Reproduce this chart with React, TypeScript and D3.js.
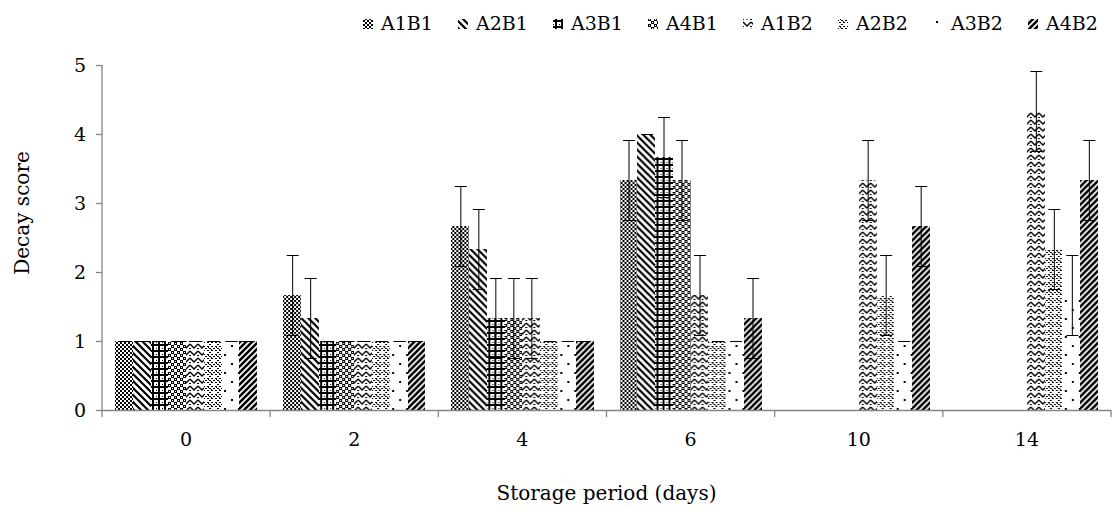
import React from 'react';
import * as d3 from 'd3';

const categories = ['0', '2', '4', '6', '10', '14'];
const series = ['A1B1', 'A2B1', 'A3B1', 'A4B1', 'A1B2', 'A2B2', 'A3B2', 'A4B2'];

// mean decay score per storage day
const A1B1 = [1, 1.67, 2.67, 3.33, 0, 0];
const A2B1 = [1, 1.33, 2.33, 4, 0, 0];
const A3B1 = [1, 1, 1.33, 3.67, 0, 0];
const A4B1 = [1, 1, 1.33, 3.33, 0, 0];
const A1B2 = [1, 1, 1.33, 1.67, 3.33, 4.33];
const A2B2 = [1, 1, 1, 1, 1.67, 2.33];
const A3B2 = [1, 1, 1, 1, 1, 1.67];
const A4B2 = [1, 1, 1, 1.33, 2.67, 3.33];

// standard deviation
const errA1B1 = [0, 0.58, 0.58, 0.58, 0, 0];
const errA2B1 = [0, 0.58, 0.58, 0, 0, 0];
const errA3B1 = [0, 0, 0.58, 0.58, 0, 0];
const errA4B1 = [0, 0, 0.58, 0.58, 0, 0];
const errA1B2 = [0, 0, 0.58, 0.58, 0.58, 0.58];
const errA2B2 = [0, 0, 0, 0, 0.58, 0.58];
const errA3B2 = [0, 0, 0, 0, 0, 0.58];
const errA4B2 = [0, 0, 0, 0.58, 0.58, 0.58];

const yTicks = [0, 1, 2, 3, 4, 5];

const values = [A1B1, A2B1, A3B1, A4B1, A1B2, A2B2, A3B2, A4B2];
const errors = [errA1B1, errA2B1, errA3B1, errA4B1, errA1B2, errA2B2, errA3B2, errA4B2];

const FONT = '"DejaVu Serif", "Liberation Serif", serif';
const AXIS = '#868686';

const Patterns = () => (
  <defs>
    {/* small checker */}
    <pattern id="p0" patternUnits="userSpaceOnUse" width={4} height={4}>
      <rect width={4} height={4} fill="#fff" />
      <rect x={0} y={0} width={2} height={2} fill="#000" />
      <rect x={2} y={2} width={2} height={2} fill="#000" />
      <rect x={1} y={1} width={1} height={1} fill="#000" />
      <rect x={3} y={3} width={1} height={1} fill="#000" />
    </pattern>
    {/* wide downward diagonal */}
    <pattern id="p1" patternUnits="userSpaceOnUse" width={7} height={7}>
      <rect width={7} height={7} fill="#fff" />
      <path d="M-2,-2 L9,9 M-2,5 L2,9 M5,-2 L9,2" stroke="#000" strokeWidth={2.2} />
    </pattern>
    {/* dark pluses */}
    <pattern id="p2" patternUnits="userSpaceOnUse" width={6} height={6}>
      <rect width={6} height={6} fill="#fff" />
      <rect x={2} y={0} width={2} height={6} fill="#000" />
      <rect x={0} y={2} width={6} height={2} fill="#000" />
      <rect x={0} y={0} width={1} height={1} fill="#000" />
    </pattern>
    {/* larger checker with white spots */}
    <pattern id="p3" patternUnits="userSpaceOnUse" width={6} height={6}>
      <rect width={6} height={6} fill="#fff" />
      <rect x={0} y={0} width={3} height={3} fill="#000" />
      <rect x={3} y={3} width={3} height={3} fill="#000" />
      <rect x={1} y={1} width={1} height={1} fill="#fff" />
      <rect x={4} y={4} width={1} height={1} fill="#fff" />
    </pattern>
    {/* zigzag */}
    <pattern id="p4" patternUnits="userSpaceOnUse" width={8} height={7}>
      <rect width={8} height={7} fill="#fff" />
      <path d="M0,1 L4,5 L8,1" fill="none" stroke="#000" strokeWidth={1.4} />
      <rect x={0} y={5} width={1} height={1} fill="#000" />
      <rect x={7} y={5} width={1} height={1} fill="#000" />
    </pattern>
    {/* dotted diamonds */}
    <pattern id="p5" patternUnits="userSpaceOnUse" width={8} height={8}>
      <rect width={8} height={8} fill="#fff" />
      <rect x={3} y={0} width={2} height={1} fill="#000" />
      <rect x={1} y={2} width={2} height={1} fill="#000" />
      <rect x={5} y={2} width={2} height={1} fill="#000" />
      <rect x={0} y={4} width={1} height={1} fill="#000" />
      <rect x={7} y={4} width={1} height={1} fill="#000" />
      <rect x={3} y={4} width={2} height={1} fill="#000" />
      <rect x={1} y={6} width={2} height={1} fill="#000" />
      <rect x={5} y={6} width={2} height={1} fill="#000" />
      <rect x={2} y={3} width={1} height={1} fill="#000" />
      <rect x={5} y={5} width={1} height={1} fill="#000" />
    </pattern>
    {/* sparse dots */}
    <pattern id="p6" patternUnits="userSpaceOnUse" width={14} height={18}>
      <rect width={14} height={18} fill="#fff" />
      <rect x={3} y={3} width={2} height={2} fill="#000" />
      <rect x={10} y={12} width={2} height={2} fill="#000" />
    </pattern>
    {/* wide upward diagonal */}
    <pattern id="p7" patternUnits="userSpaceOnUse" width={6} height={6}>
      <rect width={6} height={6} fill="#fff" />
      <path d="M-2,8 L8,-2 M-2,2 L2,-2 M4,8 L8,4" stroke="#000" strokeWidth={2.6} />
    </pattern>
  </defs>
);

export default function App() {
  const width = 1118;
  const height = 516;
  const left = 102;
  const right = 1111;
  const top = 65;
  const bottom = 410;

  const x0 = d3.scaleBand().domain(categories).range([left, right]).padding(0);
  const x1 = d3.scaleBand().domain(series).range([13, x0.bandwidth() - 13]).padding(0);
  const y = d3.scaleLinear().domain([0, 5]).range([bottom, top]);
  const legendX = d3.scalePoint().domain(series).range([363, 1028]);

  const boundaries = [...categories.map(c => x0(c) as number), right];

  return (
    <svg width={width} height={height} style={{ display: 'block', position: 'absolute', left: 0, top: 0 }}
      fontFamily={FONT}>
      <Patterns />
      <rect width={width} height={height} fill="#fff" />

      {/* legend */}
      {series.map((s, i) => (
        <g key={s} transform={`translate(${legendX(s)},0)`}>
          <rect x={0} y={19} width={10} height={10} fill={`url(#p${i})`} shapeRendering="crispEdges" />
          <text x={18} y={30} fontSize={19} fill="#000">{s}</text>
        </g>
      ))}

      {/* bars */}
      {categories.map((c, ci) => (
        <g key={c} transform={`translate(${x0(c)},0)`}>
          {series.map((s, si) => {
            const v = values[si][ci];
            if (!v) return null;
            return (
              <rect key={s} x={x1(s)} y={y(v)} width={x1.bandwidth()} height={y(0) - y(v)}
                fill={`url(#p${si})`} shapeRendering="crispEdges" />
            );
          })}
        </g>
      ))}

      {/* error bars */}
      {categories.map((c, ci) => (
        <g key={c} transform={`translate(${x0(c)},0)`} stroke="#000" strokeWidth={1}>
          {series.map((s, si) => {
            const v = values[si][ci];
            if (!v) return null;
            const e = errors[si][ci];
            const cx = Math.round((x1(s) as number) + x1.bandwidth() / 2) + 0.5;
            const hi = Math.round(y(v + e)) + 0.5;
            const lo = Math.round(y(v - e)) + 0.5;
            return (
              <g key={s}>
                <line x1={cx} x2={cx} y1={hi} y2={lo} />
                <line x1={cx - 6} x2={cx + 6} y1={hi} y2={hi} />
                <line x1={cx - 6} x2={cx + 6} y1={lo} y2={lo} />
              </g>
            );
          })}
        </g>
      ))}

      {/* axes */}
      <g stroke={AXIS} strokeWidth={1.3}>
        <line x1={left} x2={left} y1={y(5)} y2={y(0)} />
        {yTicks.map(t => (
          <line key={t} x1={left - 6} x2={left} y1={Math.round(y(t)) + 0.5} y2={Math.round(y(t)) + 0.5} />
        ))}
        <line x1={left} x2={right} y1={bottom + 0.5} y2={bottom + 0.5} />
        {boundaries.map((b, i) => (
          <line key={i} x1={b} x2={b} y1={bottom} y2={bottom + 7} />
        ))}
      </g>
      {yTicks.map(t => (
        <text key={t} x={86} y={y(t) + 7} textAnchor="end" fontSize={19} fill="#000">{t}</text>
      ))}
      {categories.map(c => (
        <text key={c} x={(x0(c) as number) + x0.bandwidth() / 2} y={446} textAnchor="middle" fontSize={19} fill="#000">{c}</text>
      ))}

      <text x={(left + right) / 2} y={500} textAnchor="middle" fontSize={20} fill="#000">Storage period (days)</text>
      <text transform={`translate(29,213) rotate(-90)`} textAnchor="middle" fontSize={20} fill="#000">Decay score</text>
    </svg>
  );
}
